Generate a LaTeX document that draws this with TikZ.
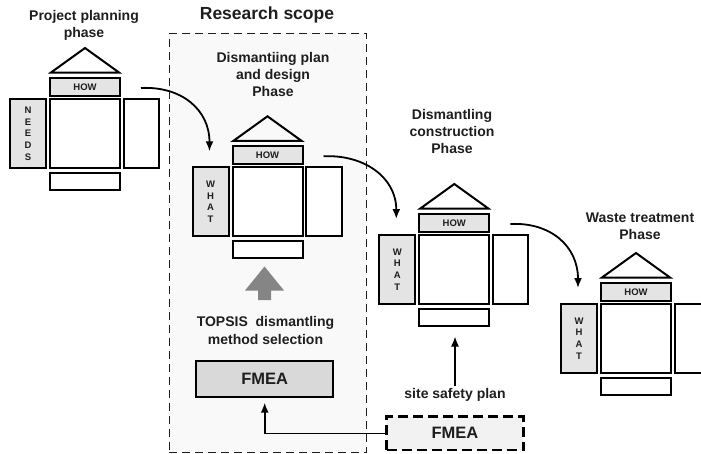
\documentclass[tikz,border=0pt]{standalone}
\usepackage{fontspec}
\setmainfont{Liberation Sans}
\usetikzlibrary{arrows.meta}
\definecolor{boxgray}{HTML}{E4E4E4}
\definecolor{fmeagray}{HTML}{D9D9D9}
\definecolor{fmealight}{HTML}{F2F2F2}
\definecolor{scopefill}{HTML}{F9F9F9}
\definecolor{txt}{HTML}{1E1E1E}
\definecolor{bigarrow}{HTML}{858585}
\tikzset{
  box/.style={draw=black, line width=2pt, fill=white, inner sep=0pt, outer sep=0pt},
  graybox/.style={box, fill=boxgray},
  howtext/.style={font=\fontsize{9.5}{11.7}\selectfont\bfseries, text=txt, align=center},
  title/.style={font=\fontsize{14}{17}\selectfont\bfseries, text=txt, align=center, inner sep=0pt},
  arr/.style={-{Latex[length=10pt,width=8pt]}, line width=1.8pt},
}
\newcommand\qfdmod[4]{%
\begin{scope}[shift={(#2,#3)}]
  \node[box, minimum width=70pt, minimum height=69pt] (#1c) at (0,34.5) {};
  \node[graybox, howtext, minimum width=70pt, minimum height=18.5pt] (#1h) at (0,-12.25) {HOW};
  \draw[line width=2pt, line join=miter] (-34,-26.5) -- (0,-51) -- (34,-26.5) -- cycle;
  \node[graybox, howtext, minimum width=36pt, minimum height=69pt] (#1l) at (-57,34.5) {#4};
  \node[box, minimum width=35.5pt, minimum height=69pt] (#1r) at (56.25,34.5) {};
  \node[box, minimum width=70pt, minimum height=17pt] (#1b) at (0,82) {};
  \coordinate (#1out) at (56,-11);
  \coordinate (#1in) at (-58,-16);
\end{scope}}
\begin{document}
\begin{tikzpicture}[x=1pt,y=-1pt]
\useasboundingbox (0,0) rectangle (701,453);
\clip (0,0) rectangle (701,453);
% research scope frame
\node[draw=txt, fill=scopefill, line width=1.3pt, dash pattern=on 8pt off 5pt,
      minimum width=197.4pt, minimum height=419pt, inner sep=0pt] (scope) at (268,242.8) {};
\node[title, font=\fontsize{17.5}{20}\selectfont\bfseries] (scopet) at (267,15) {Research scope};

% modules
\qfdmod{ma}{85}{99}{N\\E\\E\\D\\S}
\qfdmod{mb}{267.5}{167.3}{W\\H\\A\\T}
\qfdmod{mc}{454.3}{235}{W\\H\\A\\T}
\qfdmod{md}{636}{304}{W\\H\\A\\T}

% titles
\node[title] (ta) at (84,25) {Project planning\\phase};
\node[title] (tb) at (273,74.5) {Dismantiing plan\\and design\\Phase};
\node[title] (tc) at (452,131) {Dismantling\\construction\\Phase};
\node[title] (td) at (640,226.5) {Waste treatment\\Phase};

% curved arrows
\draw[arr] (maout) .. controls +(40,-2) and +(0,-42) .. (mbin);
\draw[arr] (mbout) .. controls +(40,-2) and +(0,-42) .. (mcin);
\draw[arr] (mcout) .. controls +(40,-2) and +(0,-42) .. (mdin);

% big gray arrow
\fill[bigarrow] (258,300) -- (258,290.5) -- (245,290.5) -- (264.5,266.5) -- (284,290.5) -- (271,290.5) -- (271,300) -- cycle;

\node[title, font=\fontsize{14}{17.6}\selectfont\bfseries] (topsis) at (265.5,330.5) {TOPSIS\ \ dismantling\\method selection};

% FMEA boxes
\node[box, fill=fmeagray, minimum width=137.3pt, minimum height=35.7pt,
      font=\fontsize{16.5}{19}\selectfont\bfseries, text=txt] (fmeaa) at (264.7,378.8) {FMEA};
\node[draw=black, fill=fmealight, line width=2.5pt, dash pattern=on 10pt off 5pt,
      minimum width=136.6pt, minimum height=33.3pt, inner sep=0pt,
      font=\fontsize{16.5}{19}\selectfont\bfseries, text=txt] (fmeab) at (455,433.3) {FMEA};

\node[title] (site) at (455,395) {site safety plan};

\draw[arr, line width=1.6pt, shorten >=6pt] (fmeab.west) -| (fmeaa.south);
\draw[arr, line width=1.6pt, shorten >=11pt, shorten <=2pt] (site.north) -- (site.north |- mcb.south);
\end{tikzpicture}
\end{document}
